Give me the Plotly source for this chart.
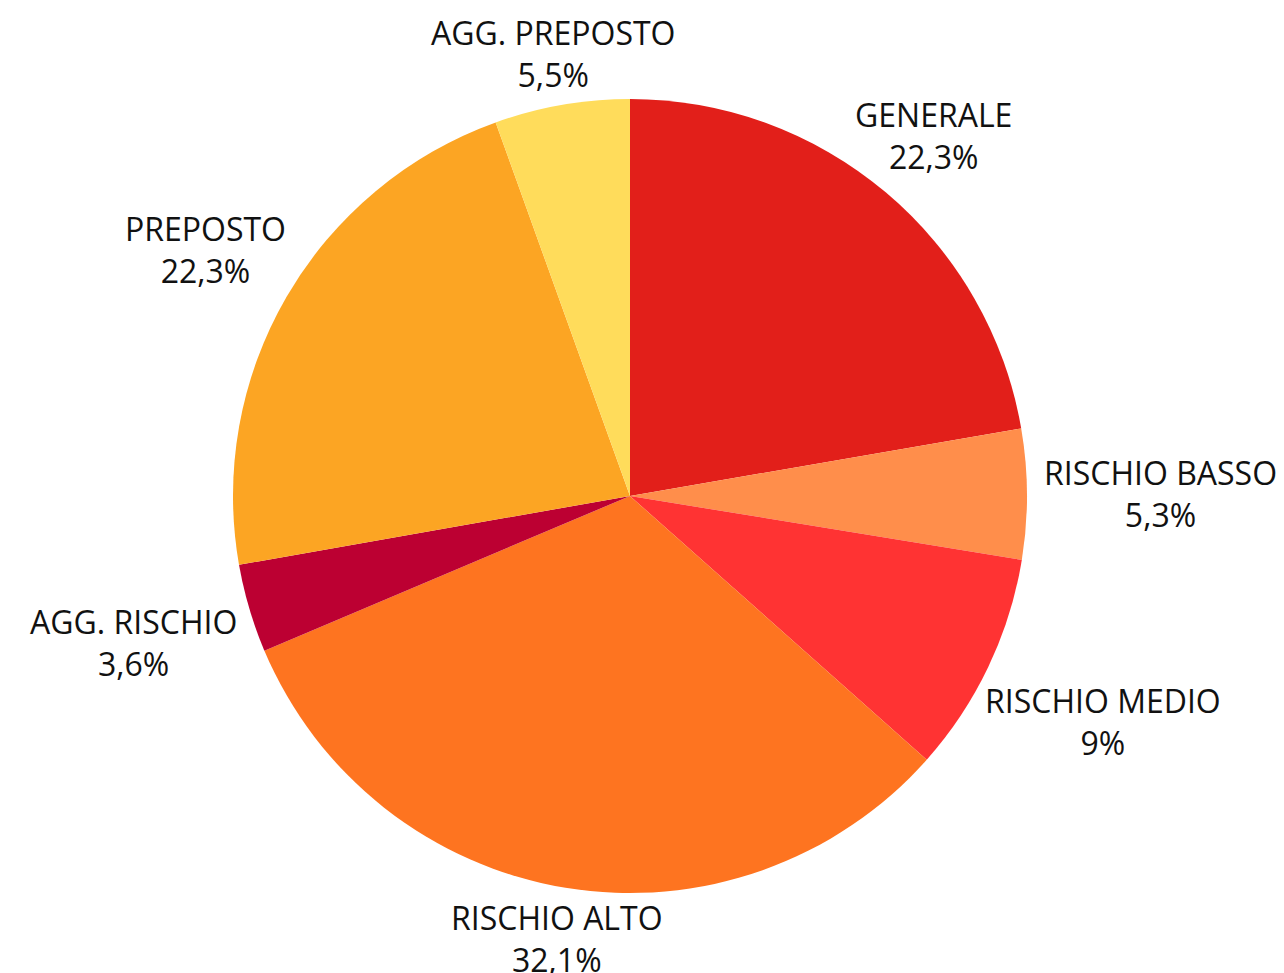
import math
import plotly.graph_objects as go

# Share of courses by type (percent), clockwise from 12 o'clock
categories = ["GENERALE", "RISCHIO BASSO", "RISCHIO MEDIO", "RISCHIO ALTO",
              "AGG. RISCHIO", "PREPOSTO", "AGG. PREPOSTO"]
values = [22.3, 5.3, 9, 32.1, 3.6, 22.3, 5.5]
colors = ["#E21F1A", "#FF8E4B", "#FF3333", "#FE7420",
          "#BC0032", "#FCA523", "#FFDC5B"]

W, H = 1284, 973
ML, MR, MT, MB = 233, 257, 99, 80
PLOT = W - ML - MR          # square plot area -> pie diameter
R = PLOT / 2
FONT = 32

# Open Sans advance widths (em units) used to size the outside labels
ADV = {" ": .260, "%": .855, ",": .243, ".": .266, "A": .633, "B": .648,
       "C": .631, "D": .729, "E": .556, "G": .726, "H": .752, "I": .279,
       "L": .559, "M": .905, "N": .779, "O": .780, "P": .613, "R": .625,
       "S": .549, "T": .553}


def text_width(s):
    return sum(ADV.get(ch, .572) for ch in s) * FONT


def pct_label(v):
    return f"{v:g}".replace(".", ",") + "%"


fig = go.Figure(go.Pie(
    labels=categories,
    values=values,
    marker=dict(colors=colors, line=dict(width=0)),
    sort=False,
    direction="clockwise",
    rotation=0,
    textinfo="none",
    hoverinfo="label+percent",
    showlegend=False,
    domain=dict(x=[0, 1], y=[0, 1]),
))

# Outside labels placed along each slice's bisector
total = sum(values)
cum = 0.0
annotations = []
for name, v in zip(categories, values):
    mid = (cum + v / 2) / total * 2 * math.pi
    cum += v
    s, c = math.sin(mid), math.cos(mid)
    hw = max(text_width(name), text_width(pct_label(v))) / 2
    d = R + 16 + hw * s * s + 33 * abs(c)
    cx = ML + R + d * s
    cy = MT + R - d * c
    annotations.append(dict(
        x=(cx - ML) / PLOT, y=1 - (cy - MT) / PLOT,
        xref="paper", yref="paper",
        text=f"{name}<br>{pct_label(v)}", showarrow=False,
        xanchor="center", yanchor="middle", align="center",
        font=dict(family="Open Sans", size=FONT, color="#111111"),
    ))

fig.update_layout(
    width=W, height=H,
    margin=dict(l=ML, r=MR, t=MT, b=MB),
    paper_bgcolor="white",
    plot_bgcolor="white",
    annotations=annotations,
)

fig.write_html("out.html")
